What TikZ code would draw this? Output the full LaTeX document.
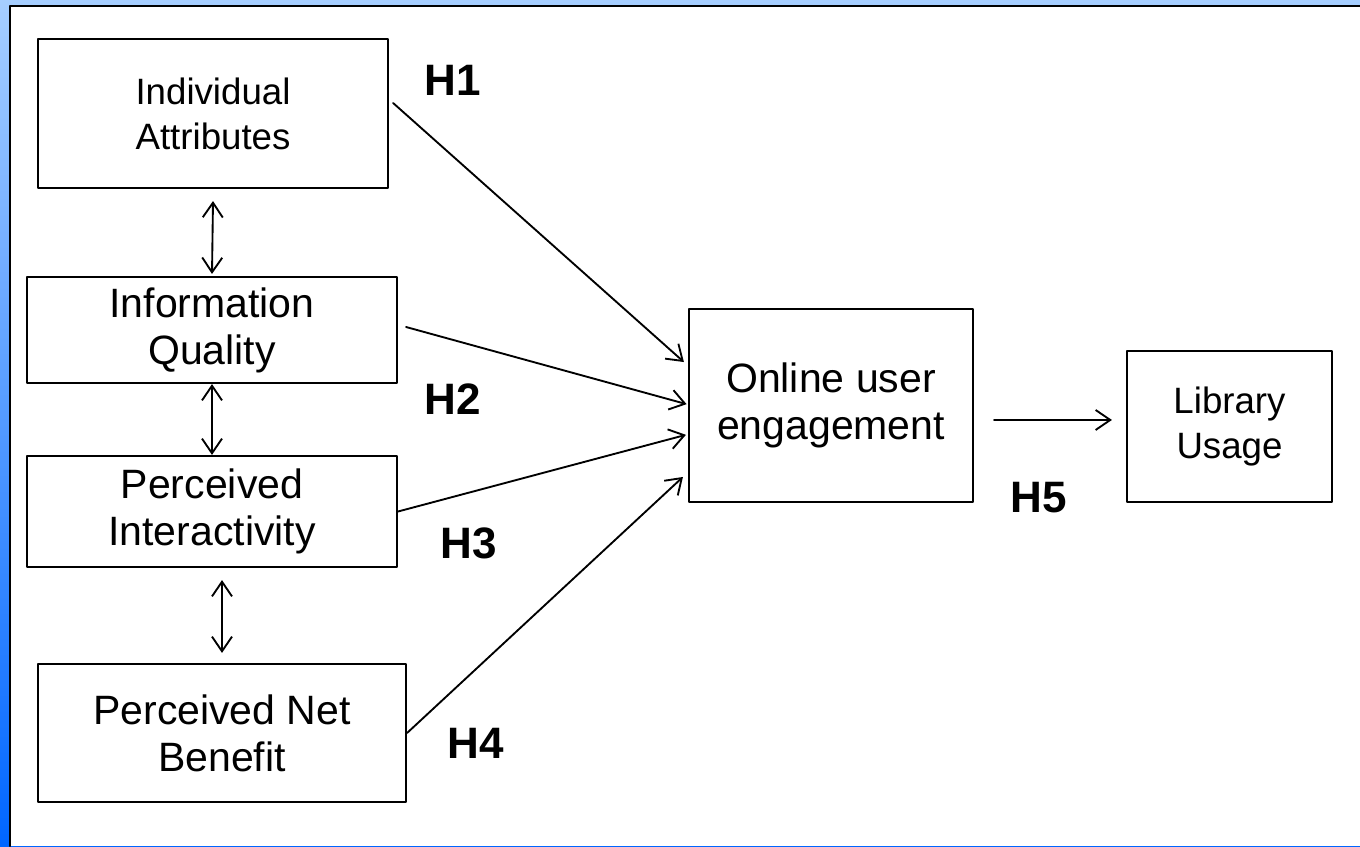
\documentclass[tikz,border=0pt]{standalone}
\usepackage{fontspec}
\setmainfont{Liberation Sans}
\usetikzlibrary{arrows.meta}
\begin{document}
\begin{tikzpicture}[x=0.75pt, y=-0.75pt, line join=round, line cap=round,
		>={Straight Barb[length=11pt,width=15pt]},
		box/.style={draw, line width=1.6pt, align=center, inner sep=0pt},
		big/.style={font=\fontsize{30.75}{35.3}\selectfont},
		small/.style={font=\fontsize{27.5}{33.75}\selectfont},
		hyp/.style={font=\bfseries\fontsize{33}{38}\selectfont, anchor=base west, inner sep=0pt},
		link/.style={->, line width=1.4pt}]
	\useasboundingbox (0,0) rectangle (1360,846);
	% backdrop and frame
	\shade[top color=cyan!45!blue!35, middle color=red!45, bottom color=blue!60!cyan] (0,0) rectangle (1360,846);
	\fill[white] (10,6) rectangle (1360,846);
	\draw[line width=1.6pt] (10,846) |- (1360,6);
	% constructs
	\node[box, small, minimum width=262.5pt, minimum height=111.75pt] (ia) at (213,113.5) {Individual\\Attributes};
	\node[box, big, minimum width=277.5pt, minimum height=79.5pt] (iq) at (212,330) {Information\\Quality};
	\node[box, big, minimum width=277.5pt, minimum height=83.25pt] (pi) at (212,511.5) {Perceived\\Interactivity};
	\node[box, big, minimum width=276pt, minimum height=103.5pt] (pnb) at (222,733) {Perceived Net\\Benefit};
	\node[box, big, minimum width=213pt, minimum height=144.75pt] (oue) at (831,405.5) {Online user\\engagement};
	\node[box, small, minimum width=153.75pt, minimum height=113.25pt] (lu) at (1229.5,426.5) {Library\\Usage};
	% correlations
	\draw[<->, line width=1.4pt] ([yshift=-9pt]ia.south) -- ([yshift=1.5pt]iq.north);
	\draw[<->, line width=1.4pt] (iq.south) -- (pi.north);
	\draw[<->, line width=1.4pt] ([xshift=7.5pt,yshift=-9pt]pi.south) -- ([yshift=7.5pt]pnb.north);
	% hypotheses
	\draw[link] ([xshift=3pt,yshift=7.9pt]ia.east) -- ([xshift=-3pt,yshift=32.6pt]oue.west);
	\draw[link] ([xshift=6pt,yshift=2.25pt]iq.east) -- ([xshift=-1pt,yshift=1pt]oue.west);
	\draw[link] (pi.east) -- ([xshift=-1.5pt,yshift=-22pt]oue.west);
	\draw[link] (pnb.east) -- ([xshift=-3.75pt,yshift=-53.6pt]oue.west);
	\draw[link] ([xshift=15pt,yshift=-10.9pt]oue.east) -- ([xshift=-10.5pt,yshift=4.9pt]lu.west);
	\node[hyp] (h1) at (424,95) {H1};
	\node[hyp] (h2) at (424,414) {H2};
	\node[hyp] (h3) at (440,558) {H3};
	\node[hyp] (h4) at (447,758) {H4};
	\node[hyp] (h5) at (1010,512) {H5};
\end{tikzpicture}
\end{document}
